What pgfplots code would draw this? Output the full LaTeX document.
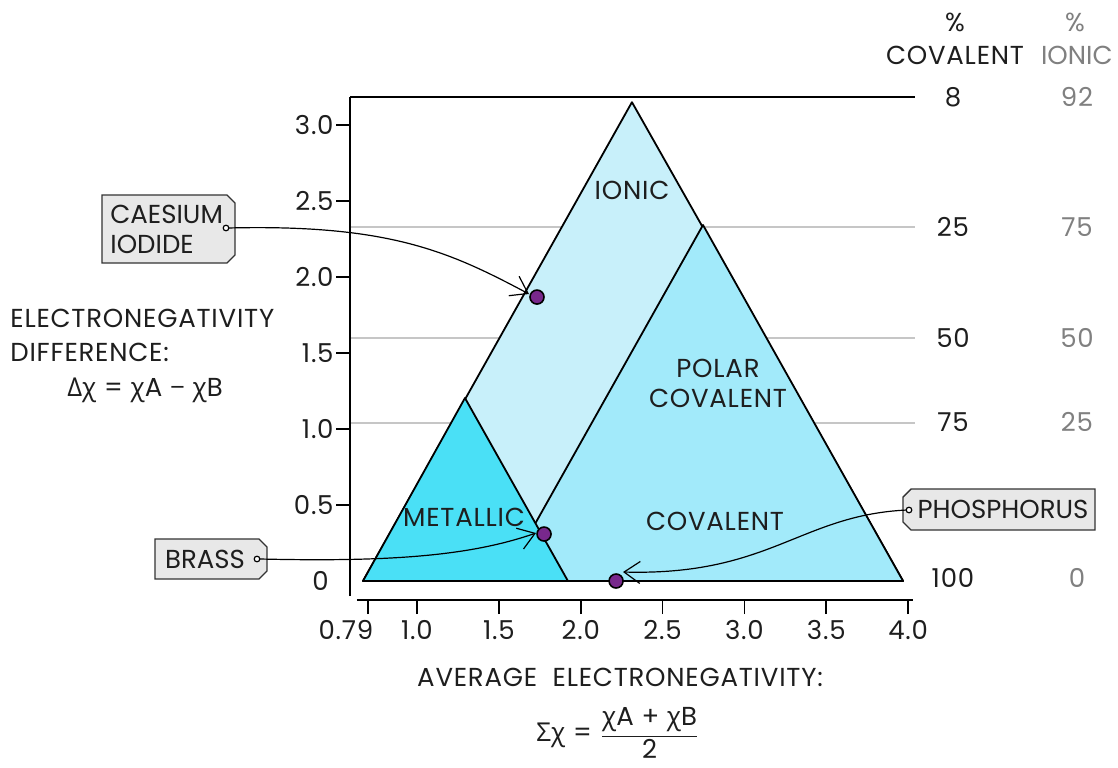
\documentclass[border=0pt]{standalone}
\usepackage{pgfplots}
\pgfplotsset{compat=1.18}
\usepackage{fontspec}
\setmainfont{Poppins}[LetterSpace=3]
\newfontfamily\tagfont{Poppins}
\newfontfamily\grk{Open Sans}
\usetikzlibrary{arrows.meta}
\definecolor{ionic}{RGB}{200,240,250}
\definecolor{polar}{RGB}{162,234,250}
\definecolor{metal}{RGB}{74,224,246}
\definecolor{dot}{RGB}{120,40,140}
\definecolor{tag}{RGB}{232,232,232}
\definecolor{txt}{RGB}{30,30,30}
\definecolor{gtxt}{RGB}{128,128,128}
\begin{document}
\fontsize{13}{15}\selectfont
\begin{tikzpicture}[font=\fontsize{13}{15}\selectfont]
\begin{axis}[
  at={(0,0)}, anchor=south west,
  scale only axis, width=282.5pt, height=251.5pt,
  xmin=0.5907, xmax=4.042, ymin=-0.125, ymax=3.184,
  axis line style={draw=none},
  clip=false,
  xtick={0.7,1,1.5,2,2.5,3,3.5,4},
  xticklabels={\makebox[0pt]{\hspace{-22pt}0.79},1.0,1.5,2.0,2.5,3.0,3.5,4.0},
  ytick={0.5,1,1.5,2,2.5,3},
  yticklabels={0.5,1.0,1.5,2.0,2.5,3.0},
  extra y ticks={0}, extra y tick labels={0},
  extra y tick style={major tick length=0pt, yticklabel style={xshift=-9.5pt}},
  xtick pos=left, ytick pos=left,
  tick align=outside, major tick length=7pt,
  tick style={black, line width=0.8pt},
  ticklabel style={text=txt, inner sep=1pt, font=\fontsize{13}{15}\selectfont},
  xticklabel style={yshift=-2pt},
]
% percentage guide lines
\addplot[gray!45, line width=0.8pt] coordinates {(0.5907,2.329) (4.042,2.329)};
\addplot[gray!45, line width=0.8pt] coordinates {(0.5907,1.599) (4.042,1.599)};
\addplot[gray!45, line width=0.8pt] coordinates {(0.5907,1.039) (4.042,1.039)};
\addplot[black, line width=0.8pt] coordinates {(0.5907,3.184) (4.042,3.184)};
% regions
\addplot[fill=ionic, draw=black, line width=0.9pt, line join=round] coordinates {(0.670,0) (2.313,3.15) (3.969,0)} -- cycle;
\addplot[fill=polar, draw=black, line width=0.9pt, line join=round] coordinates {(1.525,0) (2.747,2.342) (3.969,0)} -- cycle;
\addplot[fill=metal, draw=black, line width=0.9pt, line join=round] coordinates {(0.670,0) (1.293,1.204) (1.922,0)} -- cycle;
% axes
\draw[line width=0.8pt] (axis cs:0.5907,-0.099) -- (axis cs:0.5907,3.184);
\draw[line width=0.8pt] (axis cs:0.633,-0.125) -- (axis cs:4.03,-0.125);
% points
\addplot[only marks, mark=*, mark size=3.5pt, mark options={fill=dot, draw=black, line width=0.8pt}] coordinates {(1.733,1.868) (1.776,0.309) (2.216,0.0)};
\end{axis}
\begin{scope}[x=0.5pt,y=-0.5pt,shift={(-175pt,300pt)}]
% axis titles
\node[anchor=west, text=txt, inner sep=0pt] at (10,318) {ELECTRONEGATIVITY};
\node[anchor=west, text=txt, inner sep=0pt] at (10,352) {DIFFERENCE:};
\node[text=txt] at (145,390) {{\grk Δχ} = {\grk χ}A {\grk −} {\grk χ}B};
\node[text=txt] at (620,677) {AVERAGE\ \ ELECTRONEGATIVITY:};
\node[text=txt] at (618,733) {$\displaystyle\mbox{\grk Σχ}\mbox{ = }\frac{\mbox{{\grk χ}A + {\grk χ}B}}{\mbox{2}}$};
% region labels
\node[text=txt] at (632,190) {IONIC};
\node[text=txt, align=center] at (718,383) {POLAR\\COVALENT};
\node[text=txt] at (715,521) {COVALENT};
\node[text=txt] at (464,517) {METALLIC};
% right scale
\node[text=txt] at (955,22) {\%};
\node[text=txt] at (955,55) {COVALENT};
\node[text=gtxt] at (1075,22) {\%};
\node[text=gtxt, anchor=east, inner sep=0pt] at (1113,55) {\tagfont IONIC};
\foreach \yy/\a/\b in {97/8/92,227/25/75,338/50/50,422/75/25,578/100/0}{
  \node[text=txt] at (953,\yy) {\a};
  \node[text=gtxt] at (1077,\yy) {\b};
}
% tags
\draw[fill=tag, draw=black!80, line width=0.7pt] (102,195) -- (227,195) -- (235,203) -- (235,255) -- (227,263) -- (102,263) -- cycle;
\node[anchor=west, text=txt, inner sep=0pt] at (110,214) {\tagfont CAESIUM};
\node[anchor=west, text=txt, inner sep=0pt] at (110,244) {\tagfont IODIDE};
\draw[fill=tag, draw=black!80, line width=0.7pt] (155,539) -- (259,539) -- (267,547) -- (267,571) -- (259,579) -- (155,579) -- cycle;
\node[text=txt] at (205,559) {\tagfont BRASS};
\draw[fill=tag, draw=black!80, line width=0.7pt] (911,489) -- (1095,489) -- (1095,530) -- (911,530) -- (903,522) -- (903,497) -- cycle;
\node[text=txt] at (1003,509) {\tagfont PHOSPHORUS};
% connectors
\draw[line width=0.6pt, -{Straight Barb[length=8pt,width=11pt,line width=0.6pt]}] (228,228) .. controls (390,224) and (450,252) .. (529,294);
\draw[line width=0.6pt, -{Straight Barb[length=8pt,width=11pt,line width=0.6pt]}] (260,559) .. controls (390,562) and (470,556) .. (536,533);
\draw[line width=0.6pt, -{Straight Barb[length=8pt,width=11pt,line width=0.6pt]}] (907,510) .. controls (800,515) and (770,576) .. (623,572);
\draw[fill=white, line width=0.6pt] (226,228) circle[radius=1.4pt];
\draw[fill=white, line width=0.6pt] (257,559) circle[radius=1.4pt];
\draw[fill=white, line width=0.6pt] (909,510) circle[radius=1.4pt];
\end{scope}
\pgfresetboundingbox
\path[use as bounding box] (-175pt,-83.5pt) rectangle (384pt,300pt);
\end{tikzpicture}
\end{document}
